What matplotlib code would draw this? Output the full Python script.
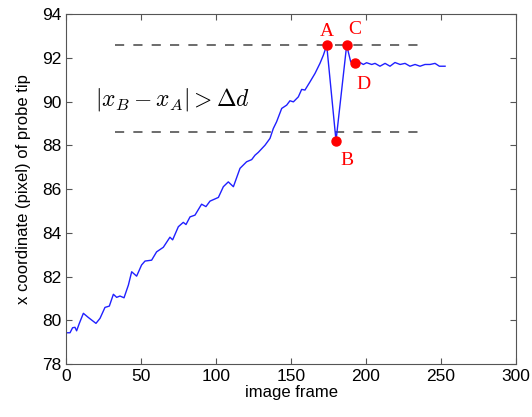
import numpy as np
import matplotlib
matplotlib.use("Agg")
import matplotlib.pyplot as plt

plt.rcParams['font.family'] = ['Liberation Sans', 'DejaVu Sans']
plt.rcParams['mathtext.fontset'] = 'cm'

# probe tip x coordinate
frames = [1, 2.7, 4.4, 6, 7.1, 8.9, 11.6, 14.9, 20, 22.7, 26, 28.9, 31.6, 33.8, 36, 38.7,
          41.6, 43.8, 47.1, 50.4, 52.7, 57.1, 60.4, 64.9, 69.3, 71.1, 74.9, 78.2, 80,
          82.7, 86, 90.4, 93.3, 96, 101.6, 104.9, 108.2, 111.6, 116, 120.4, 123.8, 126,
          128.2, 132.7, 136, 138.2, 140.4, 143.8, 147.1, 149.3, 151.6, 154.9, 157.1,
          159.3, 162.7, 166, 169.3, 171.6, 173.8, 180, 187.1, 189.8, 192.7, 196, 198.2,
          200.4, 203.8, 206, 209.3, 212.7, 216, 219.3, 222.7, 226, 229.3, 232.7, 236,
          239.3, 242.7, 246, 248.9, 252.7]
xpos = [79.43, 79.43, 79.66, 79.68, 79.52, 79.86, 80.32, 80.13, 79.86, 80.09, 80.59, 80.65,
        81.19, 81.05, 81.11, 81.03, 81.61, 82.22, 82.02, 82.53, 82.71, 82.75, 83.13, 83.34,
        83.8, 83.68, 84.28, 84.48, 84.38, 84.73, 84.81, 85.31, 85.2, 85.45, 85.62, 86.11,
        86.33, 86.11, 86.95, 87.25, 87.35, 87.55, 87.68, 88.01, 88.32, 88.77, 89.08, 89.69,
        89.84, 90.04, 89.99, 90.22, 90.56, 90.53, 90.91, 91.29, 91.75, 92.13, 92.58, 88.21,
        92.58, 91.82, 91.79, 91.79, 91.7, 91.78, 91.7, 91.75, 91.62, 91.75, 91.62, 91.79,
        91.7, 91.75, 91.62, 91.7, 91.62, 91.7, 91.7, 91.75, 91.62, 91.62]

# key points A, B, C, D
key_names = ['A', 'B', 'C', 'D']
key_frames = [173.8, 180, 187.1, 192.7]
key_vals = [92.58, 88.21, 92.58, 91.79]

thresh_upper = 92.58
thresh_lower = 88.62
thresh_span = [33, 236]

fig = plt.figure(figsize=(5.32, 4.17), dpi=100)
ax = fig.add_axes([0.124, 0.127, 0.846, 0.839])

ax.plot(thresh_span, [thresh_upper] * 2, '--', color='#444444', lw=1.1, dashes=(6, 6))
ax.plot(thresh_span, [thresh_lower] * 2, '--', color='#444444', lw=1.1, dashes=(6, 6))
ax.plot(frames, xpos, color='#2020ff', lw=1.0)
ax.plot(key_frames, key_vals, 'o', color='red', ms=6.5, mec='red')

offsets = {'A': (0, 10), 'B': (8, -14), 'C': (6, 11), 'D': (6, -16)}
for name, fx, fy in zip(key_names, key_frames, key_vals):
    ax.annotate(name, (fx, fy), xytext=offsets[name], textcoords='offset points',
                ha='center', va='center', color='red', fontsize=14,
                family='Liberation Serif')

ax.text(71, 90.1, r'$|x_B - x_A| > \Delta d$', fontsize=17, ha='center', va='center')

ax.set_xlim(0, 300)
ax.set_ylim(78, 94)
ax.set_xticks(np.arange(0, 301, 50))
ax.set_yticks(np.arange(78, 95, 2))
ax.tick_params(direction='in', top=True, right=True, labelsize=12.5, length=4, color='#555555')
for s in ax.spines.values():
    s.set_color('#555555')
ax.set_xlabel('image frame', fontsize=12, labelpad=1)
ax.set_ylabel('x coordinate (pixel) of probe tip', fontsize=12, labelpad=8)

fig.savefig('out.png', dpi=100)
